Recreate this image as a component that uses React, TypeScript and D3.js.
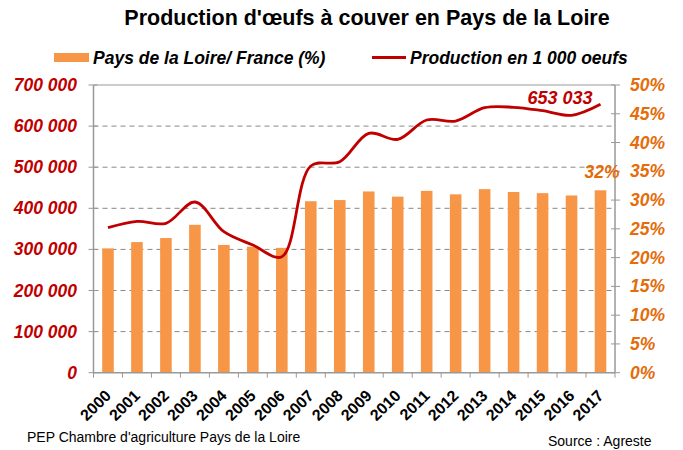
import React from "react";
import * as d3 from "d3";

const years = ["2000","2001","2002","2003","2004","2005","2006","2007","2008","2009","2010","2011","2012","2013","2014","2015","2016","2017"];
const sharePct = [21.6,22.7,23.4,25.7,22.2,21.9,21.7,29.8,30.0,31.5,30.6,31.6,31.0,31.9,31.4,31.2,30.8,31.7];
const production = [352800,368300,363500,415300,343000,310700,282200,502900,513400,582400,567800,614800,612400,644700,645700,637400,626200,653033];
const leftTicks = [0,100000,200000,300000,400000,500000,600000,700000];
const rightTicks = [0,5,10,15,20,25,30,35,40,45,50];

const W = 683, H = 450;
const X0 = 93.5, X1 = 615, Y0 = 85, Y1 = 372.7;
const RED = "#C00000", ORANGE = "#F79646", ORANGE_TXT = "#E46C0A";
const FONT = "'Liberation Sans', Arial, sans-serif";

export default function App() {
  const x = d3.scaleBand().domain(years).range([X0, X1]).paddingInner(0.6).paddingOuter(0.3);
  const xb = d3.scaleBand().domain(years).range([X0, X1]);
  const yL = d3.scaleLinear().domain([0, 700000]).range([Y1, Y0]);
  const yR = d3.scaleLinear().domain([0, 50]).range([Y1, Y0]);
  const fmt = (v: number) => d3.format(",")(v).replace(/,/g, " ");
  const line = d3.line<number>()
    .x((_, i) => (xb(years[i]) as number) + xb.bandwidth() / 2)
    .y(d => yL(d))
    .curve(d3.curveCatmullRom.alpha(0.5));
  const lastX = (xb(years[years.length - 1]) as number) + xb.bandwidth() / 2;

  return (
    <svg width={W} height={H} style={{ position: "absolute", left: 0, top: 0, background: "#fff" }} fontFamily={FONT}>
      <text x={367} y={25} textAnchor="middle" fontSize={21.5} fontWeight="bold" fill="#000">Production d'œufs à couver en Pays de la Loire</text>
      {/* legend */}
      <rect x={54} y={53} width={35} height={9} fill={ORANGE} />
      <text x={93} y={63.5} fontSize={17.5} fontWeight="bold" fontStyle="italic" fill="#000">Pays de la Loire/ France (%)</text>
      <line x1={372} x2={406} y1={57.5} y2={57.5} stroke={RED} strokeWidth={3} />
      <text x={410} y={63.5} fontSize={17.5} fontWeight="bold" fontStyle="italic" fill="#000">Production en 1 000 oeufs</text>

      {/* gridlines */}
      {leftTicks.filter(t => t > 0 && t < 700000).map(t => (
        <line key={t} x1={X0} x2={X1} y1={yL(t)} y2={yL(t)} stroke="#888" strokeWidth={1} strokeDasharray="5,4" />
      ))}
      <line x1={X0} x2={X1} y1={Y0} y2={Y0} stroke="#999" strokeWidth={1} />

      {/* bars */}
      {years.map((yr, i) => (
        <rect key={yr} x={x(yr)} y={yR(sharePct[i])} width={x.bandwidth()} height={Y1 - yR(sharePct[i])} fill={ORANGE} />
      ))}

      {/* axes */}
      <line x1={X0} x2={X0} y1={Y0} y2={Y1} stroke="#999" strokeWidth={1.5} />
      <line x1={X1} x2={X1} y1={Y0} y2={Y1} stroke="#999" strokeWidth={1.5} />
      <line x1={X0} x2={X1} y1={Y1} y2={Y1} stroke="#999" strokeWidth={1.5} />
      {leftTicks.map(t => (
        <g key={t}>
          <line x1={X0 - 5} x2={X0 + 4} y1={yL(t)} y2={yL(t)} stroke="#999" />
          <text x={77} y={yL(t) + 6} textAnchor="end" fontSize={17.5} fontWeight="bold" fontStyle="italic" fill={RED}>{fmt(t)}</text>
        </g>
      ))}
      {rightTicks.map(t => (
        <g key={t}>
          <line x1={X1 - 4} x2={X1 + 5} y1={yR(t)} y2={yR(t)} stroke="#999" />
          <text x={630} y={yR(t) + 6} textAnchor="start" fontSize={17.5} fontWeight="bold" fontStyle="italic" fill={ORANGE_TXT}>{t}%</text>
        </g>
      ))}
      {years.concat(["end"]).map((yr, i) => {
        const px = X0 + i * xb.bandwidth();
        return <line key={"t" + yr} x1={px} x2={px} y1={Y1} y2={Y1 + 5} stroke="#999" />;
      })}
      {years.map(yr => {
        const cx = (xb(yr) as number) + xb.bandwidth() / 2 + 4;
        return (
          <text key={"l" + yr} transform={`translate(${cx},${Y1 + 24}) rotate(-45)`} textAnchor="end" fontSize={16} fontWeight="bold" fill="#000">{yr}</text>
        );
      })}

      {/* line */}
      <path d={line(production) as string} fill="none" stroke={RED} strokeWidth={2.8} strokeLinejoin="round" />

      {/* data labels */}
      <text x={lastX - 8} y={104} textAnchor="end" fontSize={18} fontWeight="bold" fontStyle="italic" fill={RED}>{fmt(production[production.length - 1])}</text>
      <text x={lastX + 19} y={178} textAnchor="end" fontSize={17.5} fontWeight="bold" fontStyle="italic" fill={ORANGE_TXT}>{Math.round(sharePct[sharePct.length - 1])}%</text>

      {/* footer */}
      <text x={27} y={442} fontSize={14} fill="#000">PEP Chambre d'agriculture Pays de la Loire</text>
      <text x={548} y={446} fontSize={14} fill="#000">Source : Agreste</text>
    </svg>
  );
}
